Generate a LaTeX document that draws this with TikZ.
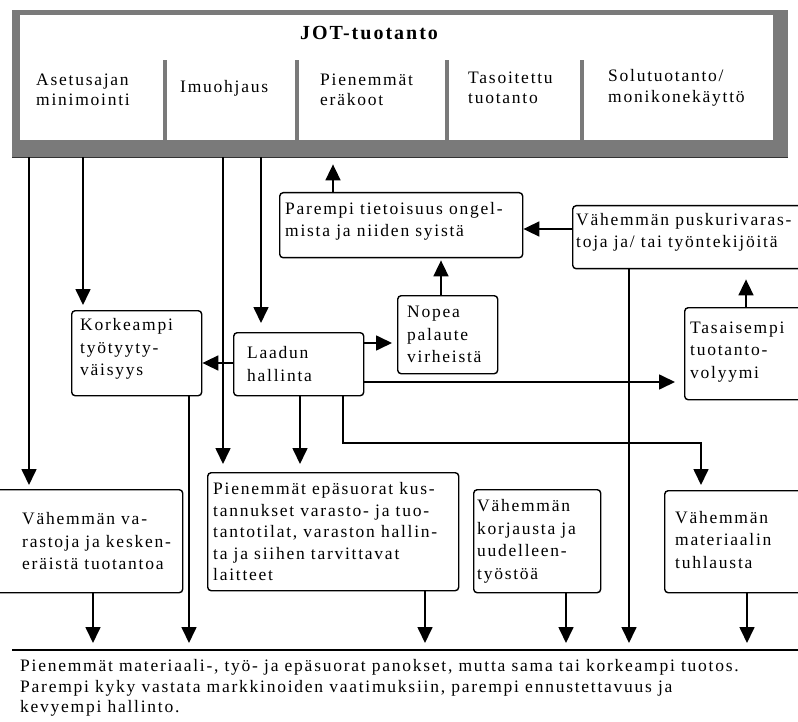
\documentclass[tikz,border=0pt]{standalone}
\usepackage{fontspec}
\setmainfont{Liberation Serif}[LetterSpace=10]
\usetikzlibrary{arrows.meta}
\newcommand\bodyfont{\fontsize{17.5}{22.5}\selectfont}
\newcommand\headfont{\fontsize{17.5}{20.5}\selectfont}
\newcommand\basefont{\fontsize{17.5}{20.5}\selectfont}
\begin{document}
\begin{tikzpicture}[
  x=1pt, y=-1pt,
  rbox/.style={draw, line width=1.4pt, rounded corners=3.5pt, inner sep=0pt, anchor=north west},
  txt/.style={font=\bodyfont, align=left, inner sep=0pt, anchor=west},
  htxt/.style={font=\headfont, align=left, inner sep=0pt, anchor=west},
  arr/.style={line width=1.7pt, -{Triangle[width=15pt,length=16pt]}},
  ln/.style={line width=1.7pt},
  shade/.style={fill=black!52},
]
\useasboundingbox (0,0) rectangle (798,722);
\clip (0,0) rectangle (798,722);
\fill[white] (0,0) rectangle (798,722);

% ---- top frame ----
\node[shade, inner sep=0pt, minimum width=776pt, minimum height=147pt, anchor=north west] (F) at (12,10) {};
\node[fill=white, inner sep=0pt, minimum width=753pt, minimum height=125pt, anchor=north west] (Fi) at (20,15) {};
\draw[line width=1pt, black!80] (F.south west) -- (F.south east);
\fill[shade] (163,60) rectangle (167,140);
\fill[shade] (295,60) rectangle (299,140);
\fill[shade] (445,60) rectangle (449,140);
\fill[shade] (580,60) rectangle (584,140);
\node[inner sep=0pt, font=\fontsize{20}{24}\selectfont\bfseries] (title) at (369,33) {JOT-tuotanto};
\node[htxt] (h1) at (36,90) {Asetusajan\\minimointi};
\node[htxt] (h2) at (180,88) {Imuohjaus};
\node[htxt] (h3) at (320,90) {Pienemmät\\eräkoot};
\node[htxt] (h4) at (468,88) {Tasoitettu\\tuotanto};
\node[htxt] (h5) at (608,88) {Solutuotanto/\\monikonekäyttö};

% ---- boxes ----
\node[rbox, minimum width=130pt, minimum height=85pt] (K) at (71,310) {};
\node[rbox, minimum width=130pt, minimum height=63pt] (L) at (233,332) {};
\node[rbox, minimum width=100pt, minimum height=78pt] (N) at (397,295) {};
\node[rbox, minimum width=243pt, minimum height=65pt] (P) at (279,192) {};
\node[rbox, minimum width=260pt, minimum height=63pt] (B) at (572,205) {};
\node[rbox, minimum width=150pt, minimum height=92pt] (T) at (684,307) {};
\node[rbox, minimum width=202pt, minimum height=103pt] (V) at (-20,489) {};
\node[rbox, minimum width=251pt, minimum height=118pt] (E) at (207,472) {};
\node[rbox, minimum width=127pt, minimum height=103pt] (R) at (473,489) {};
\node[rbox, minimum width=170pt, minimum height=102pt] (M) at (664,490) {};

% ---- box texts ----
\node[txt] (Kt) at ([xshift=9pt,yshift=4pt]K.west) {Korkeampi\\työtyyty-\\väisyys};
\node[txt] (Lt) at ([xshift=14pt]L.west) {Laadun\\hallinta};
\node[txt] (Nt) at ([xshift=10pt]N.west) {Nopea\\palaute\\virheistä};
\node[txt] (Pt) at ([xshift=6pt,yshift=4pt]P.west) {Parempi tietoisuus ongel-\\mista ja niiden syistä};
\node[txt] (Bt) at ([xshift=4pt,yshift=5pt]B.west) {Vähemmän puskurivaras-\\toja ja/ tai työntekijöitä};
\node[txt] (Tt) at ([xshift=6pt,yshift=2pt]T.west) {Tasaisempi\\tuotanto-\\volyymi};
\node[txt] (Vt) at ([xshift=42pt]V.west) {Vähemmän va-\\rastoja ja kesken-\\eräistä tuotantoa};
\node[txt, font=\fontsize{17.5}{21.5}\selectfont] (Et) at ([xshift=6pt]E.west) {Pienemmät epäsuorat kus-\\tannukset varasto- ja tuo-\\tantotilat, varaston hallin-\\ta ja siihen tarvittavat\\laitteet};
\node[txt] (Rt) at ([xshift=4pt]R.west) {Vähemmän\\korjausta ja\\uudelleen-\\työstöä};
\node[txt] (Mt) at ([xshift=11pt,yshift=2pt]M.west) {Vähemmän\\materiaalin\\tuhlausta};

% ---- bottom line and text ----
\coordinate (bl) at (12,650);
\coordinate (br) at (798,650);
\draw[ln] (bl) -- (br);
\node[inner sep=0pt, anchor=west, align=left, font=\basefont] (bottom) at (20,688)
 {Pienemmät materiaali-, työ- ja epäsuorat panokset, mutta sama tai korkeampi tuotos.\\
  Parempi kyky vastata markkinoiden vaatimuksiin, parempi ennustettavuus ja\\
  kevyempi hallinto.};

% ---- helper coordinates ----
\coordinate (x29) at (29,0);
\coordinate (x83) at (83,0);
\coordinate (x93) at (93,0);
\coordinate (x189) at (189,0);
\coordinate (x223) at (223,0);
\coordinate (x261) at (261,0);
\coordinate (x300) at (300,0);
\coordinate (x333) at (333,0);
\coordinate (x343) at (343,0);
\coordinate (x425) at (425,0);
\coordinate (x441) at (441,0);
\coordinate (x566) at (566,0);
\coordinate (x629) at (629,0);
\coordinate (x701) at (701,0);
\coordinate (x746) at (746,0);
\coordinate (x747) at (747,0);
\coordinate (y229) at (0,229);
\coordinate (y343) at (0,343);
\coordinate (y363) at (0,363);
\coordinate (y382) at (0,382);
\coordinate (y443) at (0,443);

% ---- connectors ----
\draw[arr, shorten >=4pt] (F.south -| x29) -- (V.north -| x29);
\draw[arr, shorten >=5pt] (F.south -| x83) -- (K.north -| x83);
\draw[arr, shorten >=8pt] (F.south -| x223) -- (E.north -| x223);
\draw[arr, shorten >=9pt] (F.south -| x261) -- (L.north -| x261);
\draw[arr, shorten >=7pt] (P.north -| x333) -- (F.south -| x333);
\draw[arr] (B.west |- y229) -- (P.east |- y229);
\draw[arr, shorten >=2pt] (N.north -| x441) -- (P.south -| x441);
\draw[arr] (L.west |- y363) -- (K.east |- y363);
\draw[arr, shorten >=5pt] (L.east |- y343) -- (N.west |- y343);
\draw[arr, shorten >=9pt] (L.east |- y382) -- (T.west |- y382);
\draw[arr, shorten >=10pt] (T.north -| x746) -- (B.south -| x746);
\draw[arr, shorten >=8pt] (L.south -| x300) -- (E.north -| x300);
\draw[arr, shorten >=5pt] (L.south -| x343) -- (x343 |- y443) -- (x701 |- y443) -- (M.north -| x701);
\draw[arr, shorten >=7pt] (B.south -| x629) -- (bl -| x629);
\draw[arr, shorten >=7pt] (K.south -| x189) -- (bl -| x189);
\draw[arr, shorten >=7pt] (V.south -| x93) -- (bl -| x93);
\draw[arr, shorten >=7pt] (E.south -| x425) -- (bl -| x425);
\draw[arr, shorten >=7pt] (R.south -| x566) -- (bl -| x566);
\draw[arr, shorten >=7pt] (M.south -| x747) -- (bl -| x747);
\end{tikzpicture}
\end{document}
